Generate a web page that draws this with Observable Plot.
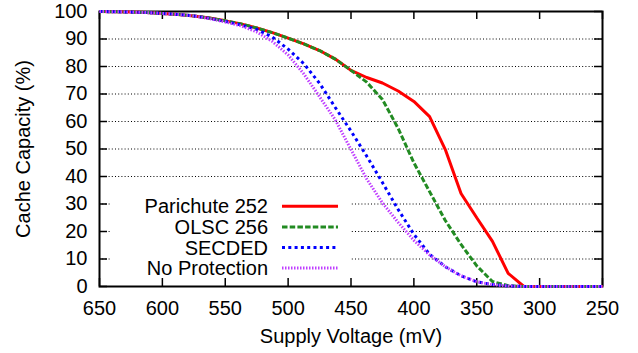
<!DOCTYPE html>
<html><head><meta charset="utf-8">
<script src="https://cdn.jsdelivr.net/npm/d3@7"></script>
<script src="https://cdn.jsdelivr.net/npm/@observablehq/plot@0.6"></script>
<style>
html,body{margin:0;padding:0;background:#fff;}
#chart{position:relative;width:638px;height:353px;}
#chart svg{display:block;}
#legend{position:absolute;left:0;top:0;pointer-events:none;}
</style></head><body><div id="chart"></div>
<script>
const voltages = [650, 637.5, 625, 612.5, 600, 587.5, 575, 562.5, 550, 537.5, 525, 512.5, 500, 487.5, 475, 462.5, 450, 437.5, 425, 412.5, 400, 387.5, 375, 362.5, 350, 337.5, 325, 312.5, 300, 287.5, 275, 262.5, 250];
const parichute = [100, 99.9, 99.8, 99.6, 99.3, 98.9, 98.4, 97.6, 96.6, 95.5, 94.0, 92.3, 90.3, 88.2, 85.8, 82.7, 78.6, 76.0, 74.0, 71.1, 67.3, 61.8, 49.8, 33.8, 25.0, 16.4, 4.8, 0, 0, 0, 0, 0, 0];
const olsc = [100, 99.9, 99.8, 99.6, 99.3, 98.9, 98.4, 97.6, 96.6, 95.5, 94.0, 92.3, 90.3, 88.2, 85.8, 82.7, 78.6, 74.3, 68.0, 57.5, 45.0, 34.5, 24.0, 15.3, 7.5, 1.8, 0.3, 0, 0, 0, 0, 0, 0];
const secded = [100, 99.9, 99.8, 99.6, 99.3, 98.9, 98.4, 97.5, 96.4, 95.1, 93.5, 90.7, 86.3, 81.0, 73.9, 65.1, 56.5, 47.4, 37.8, 28.0, 19.0, 11.7, 7.2, 3.9, 1.7, 0.7, 0.2, 0, 0, 0, 0, 0, 0];
const noProtection = [100, 99.9, 99.8, 99.6, 99.3, 98.9, 98.4, 97.4, 96.2, 94.8, 92.6, 89.1, 84.2, 77.3, 69.0, 60.6, 49.8, 39.1, 30.4, 23.3, 16.8, 11.5, 7.2, 3.9, 1.7, 0.7, 0.2, 0, 0, 0, 0, 0, 0];
const seriesNames = ["Parichute 252", "OLSC 256", "SECDED", "No Protection"];
const seriesValues = [parichute, olsc, secded, noProtection];
const seriesColors = ["#ff0000", "#228b22", "#0000ff", "#bf3fff"];
const seriesDash = [null, "5.5,2.2", "3,3.3", "1.5,1.5"];
const xTicks = [650, 600, 550, 500, 450, 400, 350, 300, 250];
const yTicks = [0, 10, 20, 30, 40, 50, 60, 70, 80, 90, 100];
const yGrid = [10, 20, 30, 40, 50, 60, 70, 80, 90];
const xTitle = "Supply Voltage (mV)";
const yTitle = "Cache Capacity (%)";

const W = 638, H = 353, mL = 99, mR = 36, mT = 11, mB = 67;
const plotW = W - mL - mR, plotH = H - mT - mB;
const font = "'Liberation Sans', Arial, Helvetica, sans-serif";

const lines = seriesValues.map((vals, i) => Plot.line(voltages, {
  x: voltages, y: vals, stroke: seriesColors[i], strokeWidth: 3,
  strokeDasharray: seriesDash[i] || undefined, strokeLinejoin: "miter", strokeLinecap: "butt"
}));

const chart = Plot.plot({
  width: W, height: H, marginLeft: mL, marginRight: mR, marginTop: mT, marginBottom: mB,
  style: {fontFamily: font, fontSize: "20px", background: "#fff", color: "#000", overflow: "visible"},
  x: {domain: [650, 250]},
  y: {domain: [0, 100]},
  marks: [
    Plot.ruleY(yGrid, {y: d => d, stroke: "#000", strokeWidth: 1, strokeDasharray: "1,2.2"}),
    Plot.axisX(xTicks, {label: null, tickSize: 0, tickPadding: 14, fontSize: 20}),
    Plot.axisY(yTicks, {label: null, tickSize: 0, tickPadding: 12, fontSize: 20}),
    Plot.tickX(xTicks, {x: d => d, insetTop: plotH - 8, stroke: "#000", strokeWidth: 1.5}),
    Plot.tickX(xTicks, {x: d => d, insetBottom: plotH - 8, stroke: "#000", strokeWidth: 1.5}),
    Plot.tickY(yTicks, {y: d => d, insetRight: plotW - 8, stroke: "#000", strokeWidth: 1.5}),
    Plot.tickY(yTicks, {y: d => d, insetLeft: plotW - 8, stroke: "#000", strokeWidth: 1.5}),
    Plot.frame({stroke: "#000", strokeWidth: 2}),
    Plot.text([xTitle], {frameAnchor: "bottom", dy: 56, lineAnchor: "bottom", textAnchor: "middle", fontSize: 20}),
    Plot.text([yTitle], {frameAnchor: "left", dx: -69.7, rotate: -90, lineAnchor: "bottom", textAnchor: "middle", fontSize: 20}),
    ...lines
  ]
});
document.getElementById("chart").appendChild(chart);

const lg = d3.select("#chart").append("svg").attr("id", "legend").attr("width", W).attr("height", H);
lg.append("rect").attr("x", 110).attr("y", 186).attr("width", 240).attr("height", 89).attr("fill", "#fff");
seriesNames.forEach((name, i) => {
  const cy = 206.3 + i * 20.6;
  lg.append("text").attr("x", 268).attr("y", cy + 7).attr("text-anchor", "end")
    .attr("font-family", font).attr("font-size", 20).attr("fill", "#000").text(name);
  const ln = lg.append("line").attr("x1", 282).attr("x2", 338).attr("y1", cy).attr("y2", cy)
    .attr("stroke", seriesColors[i]).attr("stroke-width", 3);
  if (seriesDash[i]) ln.attr("stroke-dasharray", seriesDash[i]);
});
</script></body></html>
